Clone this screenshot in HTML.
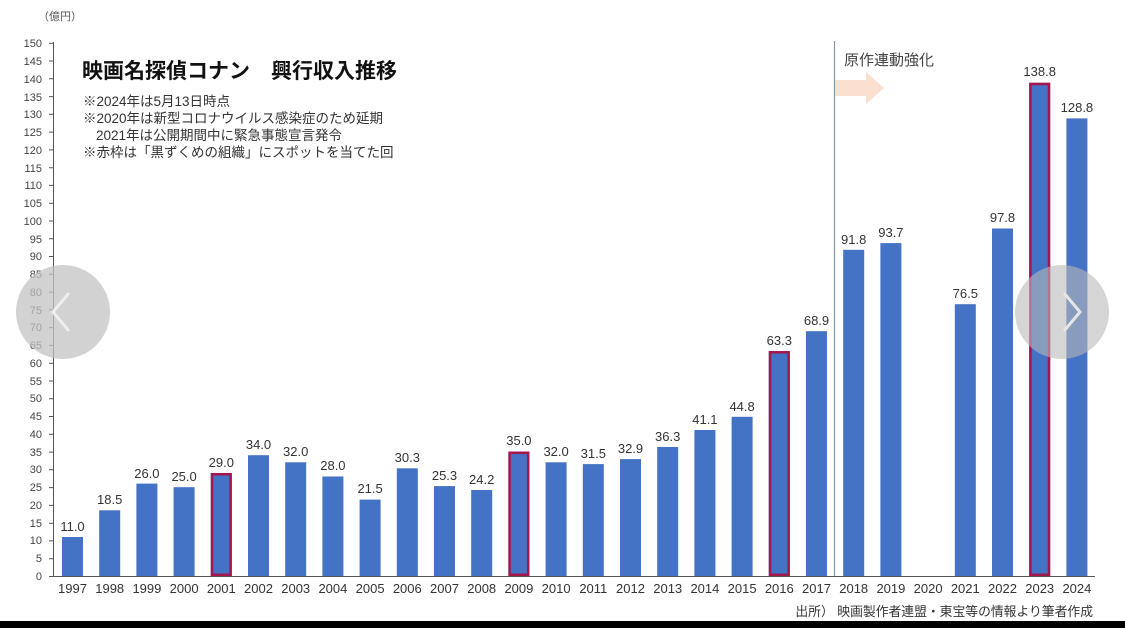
<!DOCTYPE html>
<html><head><meta charset="utf-8"><style>
html,body{margin:0;padding:0;background:#fff;}
svg{display:block;font-family:"Liberation Sans","Noto Sans CJK JP",sans-serif;}
</style></head><body>
<svg width="1125" height="628" viewBox="0 0 1125 628">
<rect width="1125" height="628" fill="#fff"/>
<text x="38" y="20" font-size="11" fill="#555">（億円）</text>
<g font-size="11" fill="#444" text-anchor="end">
<text x="42" y="580">0</text><text x="42" y="562">5</text><text x="42" y="544">10</text><text x="42" y="527">15</text><text x="42" y="509">20</text><text x="42" y="491">25</text><text x="42" y="473">30</text><text x="42" y="456">35</text><text x="42" y="438">40</text><text x="42" y="420">45</text><text x="42" y="402">50</text><text x="42" y="385">55</text><text x="42" y="367">60</text><text x="42" y="349">65</text><text x="42" y="331">70</text><text x="42" y="314">75</text><text x="42" y="296">80</text><text x="42" y="278">85</text><text x="42" y="260">90</text><text x="42" y="243">95</text><text x="42" y="225">100</text><text x="42" y="207">105</text><text x="42" y="189">110</text><text x="42" y="172">115</text><text x="42" y="154">120</text><text x="42" y="136">125</text><text x="42" y="118">130</text><text x="42" y="101">135</text><text x="42" y="83">140</text><text x="42" y="65">145</text><text x="42" y="47">150</text>
</g>
<g stroke="#555" stroke-width="1">
<line x1="53.5" y1="42" x2="53.5" y2="576"/>
<line x1="53" y1="576.5" x2="1095" y2="576.5"/>
<path d="M49 576.5h4M49 558.7h4M49 540.9h4M49 523.2h4M49 505.4h4M49 487.6h4M49 469.8h4M49 452.1h4M49 434.3h4M49 416.5h4M49 398.7h4M49 381h4M49 363.2h4M49 345.4h4M49 327.6h4M49 309.9h4M49 292.1h4M49 274.3h4M49 256.5h4M49 238.8h4M49 221h4M49 203.2h4M49 185.4h4M49 167.7h4M49 149.9h4M49 132.1h4M49 114.3h4M49 96.6h4M49 78.8h4M49 61h4M49 43.2h4"/>
</g>
<line x1="834.5" y1="41" x2="834.5" y2="576" stroke="#7f95a8" stroke-width="1.2"/>
<polygon points="835,80 866,80 866,72 884,88 866,104 866,96 835,96" fill="#fbe0d2"/>
<text x="844" y="65" font-size="15" fill="#444">原作連動強化</text>
<g fill="#4472c4">
<rect x="62" y="537" width="21" height="39"/>
<rect x="99.2" y="510.3" width="21" height="65.7"/>
<rect x="136.4" y="483.6" width="21" height="92.4"/>
<rect x="173.6" y="487.2" width="21" height="88.8"/>
<rect x="210.8" y="473" width="21" height="103"/>
<rect x="248" y="455.2" width="21" height="120.8"/>
<rect x="285.2" y="462.3" width="21" height="113.7"/>
<rect x="322.4" y="476.5" width="21" height="99.5"/>
<rect x="359.6" y="499.6" width="21" height="76.4"/>
<rect x="396.8" y="468.3" width="21" height="107.7"/>
<rect x="434" y="486.1" width="21" height="89.9"/>
<rect x="471.2" y="490" width="21" height="86"/>
<rect x="508.4" y="451.6" width="21" height="124.4"/>
<rect x="545.6" y="462.3" width="21" height="113.7"/>
<rect x="582.8" y="464.1" width="21" height="111.9"/>
<rect x="620" y="459.1" width="21" height="116.9"/>
<rect x="657.2" y="447" width="21" height="129"/>
<rect x="694.4" y="430" width="21" height="146"/>
<rect x="731.6" y="416.8" width="21" height="159.2"/>
<rect x="768.8" y="351.1" width="21" height="224.9"/>
<rect x="806" y="331.2" width="21" height="244.8"/>
<rect x="843.2" y="249.8" width="21" height="326.2"/>
<rect x="880.4" y="243.1" width="21" height="332.9"/>
<rect x="954.8" y="304.2" width="21" height="271.8"/>
<rect x="992" y="228.5" width="21" height="347.5"/>
<rect x="1029.2" y="82.8" width="21" height="493.2"/>
<rect x="1066.4" y="118.4" width="21" height="457.6"/>
</g>
<g fill="none" stroke="#a3174d" stroke-width="2.5">
<rect x="212" y="474.2" width="18.6" height="100.6"/>
<rect x="509.6" y="452.8" width="18.6" height="122"/>
<rect x="770" y="352.3" width="18.6" height="222.5"/>
<rect x="1030.4" y="84" width="18.6" height="490.8"/>
</g>
<g font-size="13" fill="#333" text-anchor="middle">
<text x="72.5" y="531">11.0</text><text x="109.7" y="504">18.5</text><text x="146.9" y="478">26.0</text><text x="184.1" y="481">25.0</text><text x="221.3" y="467">29.0</text><text x="258.5" y="449">34.0</text><text x="295.7" y="456">32.0</text><text x="332.9" y="470">28.0</text><text x="370.1" y="493">21.5</text><text x="407.3" y="462">30.3</text><text x="444.5" y="480">25.3</text><text x="481.7" y="484">24.2</text><text x="518.9" y="445">35.0</text><text x="556.1" y="456">32.0</text><text x="593.3" y="458">31.5</text><text x="630.5" y="453">32.9</text><text x="667.7" y="441">36.3</text><text x="704.9" y="424">41.1</text><text x="742.1" y="411">44.8</text><text x="779.3" y="345">63.3</text><text x="816.5" y="325">68.9</text><text x="853.7" y="244">91.8</text><text x="890.9" y="237">93.7</text><text x="965.3" y="298">76.5</text><text x="1002.5" y="222">97.8</text><text x="1039.7" y="76">138.8</text><text x="1076.9" y="112">128.8</text>
</g>
<g font-size="13" fill="#333" text-anchor="middle">
<text x="72.5" y="593">1997</text><text x="109.7" y="593">1998</text><text x="146.9" y="593">1999</text><text x="184.1" y="593">2000</text><text x="221.3" y="593">2001</text><text x="258.5" y="593">2002</text><text x="295.7" y="593">2003</text><text x="332.9" y="593">2004</text><text x="370.1" y="593">2005</text><text x="407.3" y="593">2006</text><text x="444.5" y="593">2007</text><text x="481.7" y="593">2008</text><text x="518.9" y="593">2009</text><text x="556.1" y="593">2010</text><text x="593.3" y="593">2011</text><text x="630.5" y="593">2012</text><text x="667.7" y="593">2013</text><text x="704.9" y="593">2014</text><text x="742.1" y="593">2015</text><text x="779.3" y="593">2016</text><text x="816.5" y="593">2017</text><text x="853.7" y="593">2018</text><text x="890.9" y="593">2019</text><text x="928.1" y="593">2020</text><text x="965.3" y="593">2021</text><text x="1002.5" y="593">2022</text><text x="1039.7" y="593">2023</text><text x="1076.9" y="593">2024</text>
</g>
<text x="82" y="78" font-size="21" font-weight="bold" fill="#111">映画名探偵コナン　興行収入推移</text>
<g font-size="13.5" fill="#333">
<text x="83" y="106">※2024年は5月13日時点</text>
<text x="83" y="123">※2020年は新型コロナウイルス感染症のため延期</text>
<text x="96" y="140">2021年は公開期間中に緊急事態宣言発令</text>
<text x="83" y="157">※赤枠は「黒ずくめの組織」にスポットを当てた回</text>
</g>
<text x="1093" y="616" font-size="12.8" fill="#333" text-anchor="end">出所） 映画製作者連盟・東宝等の情報より筆者作成</text>
<rect x="0" y="621" width="1125" height="7" fill="#000"/>
<circle cx="63" cy="312" r="47" fill="rgb(195,195,195)" fill-opacity="0.75"/>
<path d="M69 293 L53 312 L69 331" stroke="#eee" stroke-width="3" fill="none"/>
<circle cx="1062" cy="312" r="47" fill="rgb(185,185,185)" fill-opacity="0.6"/>
<path d="M1064 293 L1080 312 L1064 331" stroke="#e6e6e6" stroke-width="3" fill="none"/>
</svg>
</body></html>
